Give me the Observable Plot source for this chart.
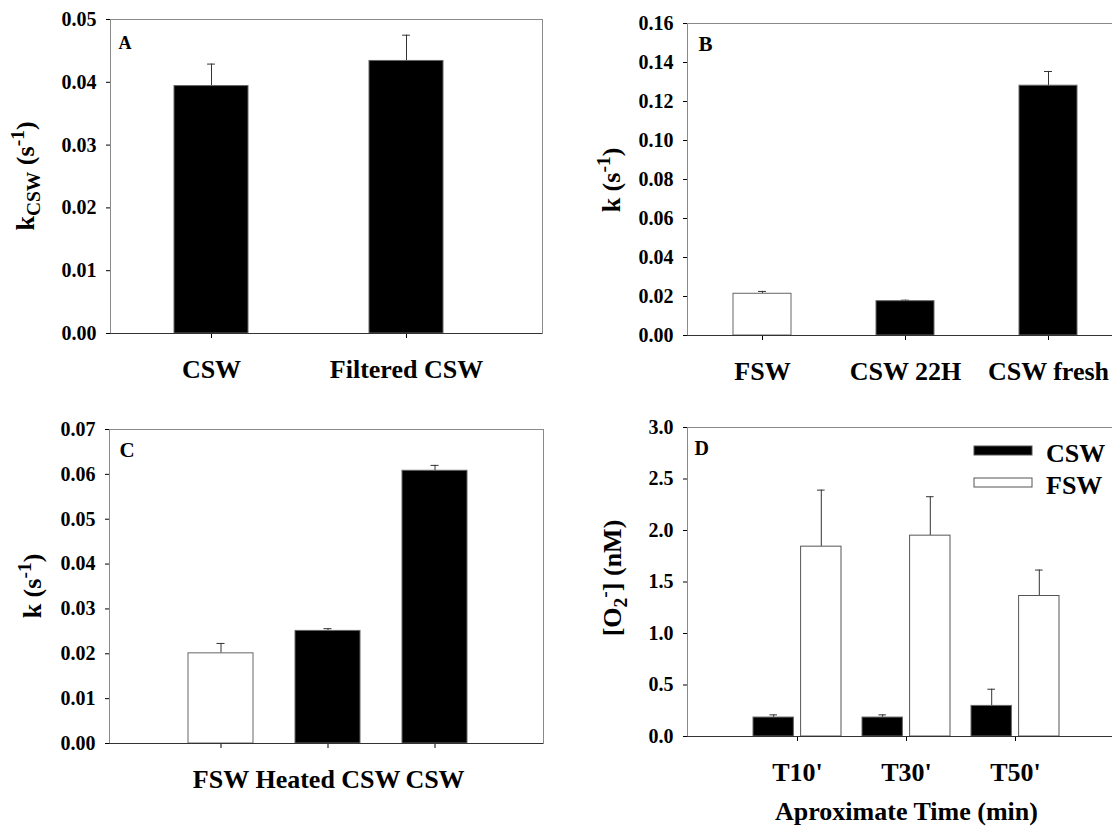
<!DOCTYPE html>
<html><head><meta charset="utf-8">
<script src="https://cdn.jsdelivr.net/npm/d3@7"></script>
<script src="https://cdn.jsdelivr.net/npm/@observablehq/plot@0.6"></script>
<style>
body{margin:0;background:#fff;}
#page{position:relative;width:1112px;height:826px;overflow:hidden;background:#fff;font-family:"Liberation Serif",serif;font-weight:bold;color:#000;}
.panel{position:absolute;}
.panel svg{max-width:none !important;display:block;}
.panel svg text{font-family:"Liberation Serif",serif !important;font-weight:bold !important;}
.panel svg g[aria-label^="y-axis"] text{font-size:20px;}
.panel svg g[aria-label^="x-axis"] text{font-size:26px;}
.ylab{position:absolute;transform:translate(-50%,-50%) rotate(-90deg);white-space:nowrap;font-family:"Liberation Serif",serif;font-size:26px;font-weight:bold;line-height:1;}
.ylab sub,.ylab sup{font-size:0.75em;line-height:0;}
</style></head>
<body>
<div id="page">
  <div class="panel" id="pA" style="left:0;top:0;width:556px;"></div>
  <div class="panel" id="pB" style="left:556px;top:0;width:700px;"></div>
  <div class="panel" id="pC" style="left:0;top:413px;width:556px;"></div>
  <div class="panel" id="pD" style="left:556px;top:413px;width:700px;"></div>
  <div class="ylab" style="left:26px;top:176px;">k<sub>CSW</sub> (s<sup>-1</sup>)</div>
  <div class="ylab" style="left:612px;top:180px;">k (s<sup>-1</sup>)</div>
  <div class="ylab" style="left:33px;top:586px;">k (s<sup>-1</sup>)</div>
  <div class="ylab" style="left:613px;top:578px;">[O<sub>2</sub><sup>-</sup>] (nM)</div>
</div>
<script>
// ---------- Data ----------
const catsA = ["CSW", "Filtered CSW"];
const valsA = [0.0394, 0.0434];
const errsA = [0.0035, 0.0041];
const fillA = ["black", "black"];
const ticksA = [0, 0.01, 0.02, 0.03, 0.04, 0.05];

const catsB = ["FSW", "CSW 22H", "CSW fresh"];
const valsB = [0.0214, 0.0176, 0.1281];
const errsB = [0.0012, 0.0005, 0.0073];
const fillB = ["white", "black", "black"];
const ticksB = [0, 0.02, 0.04, 0.06, 0.08, 0.10, 0.12, 0.14, 0.16];

const catsC = ["FSW", "Heated CSW", "CSW"];
const valsC = [0.0201, 0.0251, 0.0608];
const errsC = [0.0022, 0.0005, 0.0012];
const fillC = ["white", "black", "black"];
const ticksC = [0, 0.01, 0.02, 0.03, 0.04, 0.05, 0.06, 0.07];

const timesD = ["T10'", "T30'", "T50'"];
const seriesD = ["CSW", "FSW"];
const cswD = [0.184, 0.184, 0.297];
const cswErrD = [0.026, 0.026, 0.162];
const fswD = [1.843, 1.95, 1.364];
const fswErrD = [0.549, 0.378, 0.252];
const ticksD = [0, 0.5, 1.0, 1.5, 2.0, 2.5, 3.0];
const xTitleD = "Aproximate Time (min)";

// ---------- Helpers ----------
const STYLE = "font-family:'Liberation Serif',serif;font-weight:bold;font-size:20px;background:transparent;overflow:visible;color:#000;";
const CAP = 8;

function simplePanel(o) {
  const n = o.cats.length;
  const idx = d3.range(n);
  const bw = (o.range[1] - o.range[0]) / n * (1 - o.pad);
  const capInset = (bw - CAP) / 2;
  return Plot.plot({
    width: o.width, height: o.height,
    marginLeft: o.ml, marginRight: o.mr, marginTop: o.mt, marginBottom: o.mb,
    style: STYLE,
    color: {type: "identity"},
    x: {type: "band", domain: o.cats, range: o.range, paddingInner: o.pad, paddingOuter: o.pad / 2,
        label: null, tickSize: 5, tickPadding: 21},
    y: {domain: [o.ticks[0], o.ticks[o.ticks.length - 1]], ticks: o.ticks, tickFormat: d3.format(o.fmt),
        label: null, line: true, tickSize: 4, tickPadding: 10},
    marks: [
      Plot.frame({stroke: "#8a8a8a"}),
      Plot.ruleX(idx, {x: i => o.cats[i], y1: i => o.vals[i], y2: i => o.vals[i] + o.errs[i], stroke: "#333"}),
      Plot.tickY(idx, {x: i => o.cats[i], y: i => o.vals[i] + o.errs[i], insetLeft: capInset, insetRight: capInset, stroke: "#333"}),
      Plot.barY(idx, {x: i => o.cats[i], y: i => o.vals[i], fill: i => o.fills[i], stroke: "#666", strokeWidth: 1}),
      Plot.ruleY([0], {stroke: "#333"}),
      Plot.text([o.letter], {frameAnchor: "top-left", text: d => d, dx: o.ldx, dy: o.ldy,
        textAnchor: "start", lineAnchor: "top", fontSize: o.lsize})
    ]
  });
}

// Panel A
document.getElementById("pA").append(simplePanel({
  cats: catsA, vals: valsA, errs: errsA, fills: fillA, ticks: ticksA, fmt: ".2f",
  width: 556, height: 413, ml: 110, mr: 14, mt: 19, mb: 80,
  range: [113, 503.6], pad: 0.62, letter: "A", ldx: 8, ldy: 17, lsize: 18
}));

// Panel B
document.getElementById("pB").append(simplePanel({
  cats: catsB, vals: valsB, errs: errsB, fills: fillB, ticks: ticksB, fmt: ".2f",
  width: 700, height: 413, ml: 131, mr: 124, mt: 23, mb: 78,
  range: [134.05, 563.85], pad: 0.595, letter: "B", ldx: 11, ldy: 13, lsize: 21
}));

// Panel C
document.getElementById("pC").append(simplePanel({
  cats: catsC, vals: valsC, errs: errsC, fills: fillC, ticks: ticksC, fmt: ".2f",
  width: 556, height: 413, ml: 109, mr: 13, mt: 16, mb: 83,
  range: [166.2, 488.5], pad: 0.395, letter: "C", ldx: 10, ldy: 13, lsize: 21
}));

// Panel D (grouped bars)
(function () {
  const idx = d3.range(timesD.length);
  const range = [186.9, 514.3], pad = 0.19;
  const bw = (range[1] - range[0]) / timesD.length * (1 - pad);
  const w = 40.8;
  const off = bw / 2 - w / 2;
  const capInset = (bw - CAP) / 2;
  const svg = Plot.plot({
    width: 700, height: 413,
    marginLeft: 131, marginRight: 124, marginTop: 14, marginBottom: 90,
    style: STYLE,
    x: {type: "band", domain: timesD, range, paddingInner: pad, paddingOuter: pad / 2,
        label: null, tickSize: 5, tickPadding: 21},
    y: {domain: [0, 3], ticks: ticksD, tickFormat: d3.format(".1f"), label: null, line: true, tickSize: 4, tickPadding: 10},
    marks: [
      Plot.frame({stroke: "#8a8a8a"}),
      Plot.ruleX(idx, {x: i => timesD[i], y1: i => cswD[i], y2: i => cswD[i] + cswErrD[i], dx: -off, stroke: "#333"}),
      Plot.tickY(idx, {x: i => timesD[i], y: i => cswD[i] + cswErrD[i], dx: -off, insetLeft: capInset, insetRight: capInset, stroke: "#333"}),
      Plot.ruleX(idx, {x: i => timesD[i], y1: i => fswD[i], y2: i => fswD[i] + fswErrD[i], dx: off, stroke: "#333"}),
      Plot.tickY(idx, {x: i => timesD[i], y: i => fswD[i] + fswErrD[i], dx: off, insetLeft: capInset, insetRight: capInset, stroke: "#333"}),
      Plot.barY(idx, {x: i => timesD[i], y: i => cswD[i], fill: "black", stroke: "#666", insetRight: bw - w}),
      Plot.barY(idx, {x: i => timesD[i], y: i => fswD[i], fill: "white", stroke: "#555", insetLeft: bw - w}),
      Plot.ruleY([0], {stroke: "#333"}),
      Plot.text(["D"], {frameAnchor: "top-left", text: d => d, dx: 7, dy: 13, textAnchor: "start", lineAnchor: "top", fontSize: 20}),
      Plot.text([timesD[1]], {x: d => d, text: () => xTitleD, frameAnchor: "bottom", dy: 83, lineAnchor: "bottom", fontSize: 26})
    ]
  });
  // legend
  const g = d3.select(svg).append("g").attr("font-size", 26).attr("font-weight", "bold");
  const legY = [33, 65];
  const legFill = ["black", "white"];
  seriesD.forEach((s, k) => {
    g.append("rect").attr("x", 418).attr("y", legY[k]).attr("width", 58).attr("height", 9)
      .attr("fill", legFill[k]).attr("stroke", "#555");
    g.append("text").attr("x", 490).attr("y", legY[k] + 16).attr("text-anchor", "start").text(s);
  });
  document.getElementById("pD").append(svg);
})();
</script>
</body></html>
